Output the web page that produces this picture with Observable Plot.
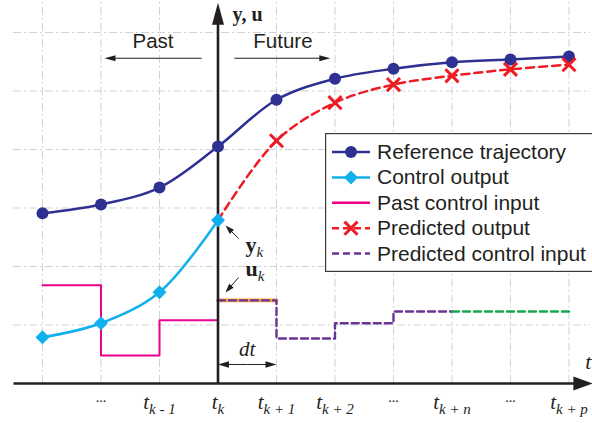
<!DOCTYPE html>
<html>
<head>
<meta charset="utf-8">
<script src="https://cdn.jsdelivr.net/npm/d3@7"></script>
<script src="https://cdn.jsdelivr.net/npm/@observablehq/plot@0.6"></script>
<style>
  body { margin: 0; background: #fff; }
  #chart { position: relative; width: 592px; height: 423px; overflow: hidden; }
  #legend { position: absolute; left: 325px; top: 133px; }
</style>
</head>
<body>
<div id="chart"></div>
<script>
// Sample instants, counted in steps of dt from t_k
const steps = [-3, -2, -1, 0, 1, 2, 3, 4, 5, 6];
const referenceTrajectory = [2.91, 3.06, 3.35, 4.05, 4.85, 5.21, 5.38, 5.49, 5.54, 5.59];

const pastSteps = [-3, -2, -1, 0];
const controlOutput = [0.79, 1.03, 1.56, 2.79];
const pastControlInput = [1.68, 0.48, 1.08, 1.08];

const futureSteps = [0, 1, 2, 3, 4, 5, 6];
const predictedOutput = [2.79, 4.15, 4.80, 5.11, 5.26, 5.37, 5.45];

const predictedInputSteps = [0, 1, 2, 3, 4];
const predictedControlInput = [1.42, 0.77, 1.03, 1.23, 1.23];
const heldInputSteps = [4, 6];          // input held constant past the control horizon

const tickSteps = [-2, -1, 0, 1, 2, 3, 4, 5, 6];
const tickLabels = ["...", "t|k - 1", "t|k", "t|k + 1", "t|k + 2", "...", "t|k + n", "...", "t|k + p"];
const gridSteps = [-3, -2, -1, 1, 2, 3, 4, 5, 6];
const gridLevels = [1, 2, 3, 4, 5, 6];

const legendLabels = ["Reference trajectory", "Control output", "Past control input", "Predicted output", "Predicted control input"];

// Colours
const ink = "#231f20";
const navy = "#2e3192";
const cyan = "#10b0ec";
const magenta = "#ec008c";
const red = "#ed1c24";
const purple = "#6a3494";
const orange = "#f7a13a";
const green = "#15a84e";
const gridColor = "#d2d2d2";

const W = 592, H = 423;
const xDomain = [-3.718, 6.402];
const yDomain = [-0.684, 6.547];
const sx = d3.scaleLinear(xDomain, [0, W]);
const sy = d3.scaleLinear(yDomain, [H, 0]);

// Filled, narrow arrowhead whose tip sits on the dot's position
function head(angle, len, half) {
  const c = Math.cos(angle), s = Math.sin(angle);
  return {
    draw(ctx) {
      ctx.moveTo(0, 0);
      ctx.lineTo(-c * len - s * half, -s * len + c * half);
      ctx.lineTo(-c * len + s * half, -s * len - c * half);
      ctx.closePath();
    }
  };
}

// Annotation arrows: tail (x1, y1) to tip (x2, y2)
const arrows = [
  {x1: -3.496, y1: 0, x2: 6.40, y2: 0, len: 19, half: 7, w: 2.6},   // time axis
  {x1: 0, y1: 0, x2: 0, y2: 6.51, len: 22, half: 6, w: 2.6},         // y, u axis
  {x1: -0.28, y1: 5.56, x2: -1.94, y2: 5.56, len: 11, half: 3, w: 1}, // Past
  {x1: 0.28, y1: 5.56, x2: 1.92, y2: 5.56, len: 11, half: 3, w: 1},   // Future
  {x1: 0.5, y1: 0.325, x2: 0.0, y2: 0.325, len: 11, half: 3.2, w: 1}, // dt, left
  {x1: 0.5, y1: 0.325, x2: 1.0, y2: 0.325, len: 11, half: 3.2, w: 1}, // dt, right
  {x1: 0.35, y1: 2.48, x2: 0.128, y2: 2.70, len: 9, half: 3, w: 1},   // y_k
  {x1: 0.35, y1: 1.81, x2: 0.128, y2: 1.556, len: 9, half: 3, w: 1}   // u_k
].map(a => {
  const px1 = sx(a.x1), py1 = sy(a.y1), px2 = sx(a.x2), py2 = sy(a.y2);
  const angle = Math.atan2(py2 - py1, px2 - px1);
  const back = a.len * 0.6;
  return {
    ...a, angle,
    sx2: sx.invert(px2 - Math.cos(angle) * back),
    sy2: sy.invert(py2 - Math.sin(angle) * back)
  };
});

const serif = "Liberation Serif, Times New Roman, serif";
const sans = "Liberation Sans, Arial, Helvetica, sans-serif";

const subTicks = tickSteps.filter((d, i) => tickLabels[i] !== "...");
const dotTicks = tickSteps.filter((d, i) => tickLabels[i] === "...");

const plot = Plot.plot({
  width: W,
  height: H,
  margin: 0,
  x: {domain: xDomain, range: [0, W], axis: null},
  y: {domain: yDomain, range: [H, 0], axis: null},
  style: {background: "#fff", overflow: "visible"},
  marks: [
    // dash-dot grid
    Plot.ruleX(gridSteps, {x: d => d, y1: 0, y2: yDomain[1], stroke: gridColor, strokeWidth: 1, strokeDasharray: "8,3,2,3"}),
    Plot.ruleY(gridLevels, {y: d => d, x1: -3.496, x2: 6.37, stroke: gridColor, strokeWidth: 1, strokeDasharray: "8,3,2,3"}),

    // control inputs
    Plot.line(pastSteps, {x: d => d, y: (d, i) => pastControlInput[i], curve: "step-after", stroke: magenta, strokeWidth: 2}),
    Plot.line(predictedInputSteps.slice(0, 2), {x: d => d, y: () => predictedControlInput[0], stroke: orange, strokeWidth: 3.6}),
    Plot.line(predictedInputSteps, {x: d => d, y: (d, i) => predictedControlInput[i], curve: "step-after", stroke: purple, strokeWidth: 2.4, strokeDasharray: "7,4"}),
    Plot.line(heldInputSteps, {x: d => d, y: () => predictedControlInput[predictedControlInput.length - 1], stroke: green, strokeWidth: 2.4, strokeDasharray: "7,4"}),

    // outputs
    Plot.line(pastSteps, {x: d => d, y: (d, i) => controlOutput[i], curve: "catmull-rom", stroke: cyan, strokeWidth: 2.5}),
    Plot.line(steps, {x: d => d, y: (d, i) => referenceTrajectory[i], curve: "catmull-rom", stroke: navy, strokeWidth: 2.5}),
    Plot.line(futureSteps, {x: d => d, y: (d, i) => predictedOutput[i], curve: "catmull-rom", stroke: red, strokeWidth: 2.5, strokeDasharray: "8,5"}),

    // arrows (shafts then heads)
    Plot.link(arrows, {x1: "x1", y1: "y1", x2: "sx2", y2: "sy2", stroke: ink, strokeWidth: d => d.w}),
    ...arrows.map(a => Plot.dot([a], {x: "x2", y: "y2", r: 5, symbol: head(a.angle, a.len, a.half), fill: ink, stroke: "none"})),

    // markers
    Plot.dot(steps, {x: d => d, y: (d, i) => referenceTrajectory[i], r: 6, symbol: "circle", fill: navy, stroke: "none"}),
    Plot.dot(pastSteps, {x: d => d, y: (d, i) => controlOutput[i], r: 6.3, symbol: "diamond2", fill: cyan, stroke: "none"}),
    Plot.dot(futureSteps.slice(1), {x: d => d, y: (d, i) => predictedOutput[i + 1], r: 6, symbol: "times", stroke: red, strokeWidth: 3, fill: "none"}),

    // time tick labels
    Plot.text(subTicks, {x: d => d, y: 0, dy: 19, text: d => tickLabels[tickSteps.indexOf(d)], fontFamily: serif, fontStyle: "italic", fontSize: 21, fill: ink}),
    Plot.text(dotTicks, {x: d => d, y: 0, dy: 14, text: () => "...", fontFamily: serif, fontSize: 14, fill: ink}),

    // axis names and annotations
    Plot.text(["y, u"], {x: 0.248, y: 6.305, text: d => d, textAnchor: "start", fontFamily: serif, fontWeight: "bold", fontSize: 20, fill: ink}),
    Plot.text(["t"], {x: 6.33, y: 0.376, text: d => d, fontFamily: serif, fontStyle: "italic", fontSize: 22, fill: ink}),
    Plot.text(["dt"], {x: 0.5, y: 0.588, text: d => d, fontFamily: serif, fontStyle: "italic", fontSize: 21, fill: ink}),
    Plot.text(["Past"], {x: -1.11, y: 5.84, text: d => d, fontFamily: sans, fontSize: 20.5, fill: ink}),
    Plot.text(["Future"], {x: 1.11, y: 5.84, text: d => d, fontFamily: sans, fontSize: 20.5, fill: ink}),
    Plot.text(["y|k", "u|k"], {x: 0.47, y: [2.36, 1.95], text: d => d, textAnchor: "start", fontFamily: serif, fontWeight: "bold", fontSize: 22, fill: ink})
  ]
});

// Turn "main|sub" strings into a main glyph with a lowered italic subscript
d3.select(plot).selectAll("text").each(function () {
  const parts = this.textContent.split("|");
  if (parts.length < 2) return;
  const bold = parts[0] === "y" || parts[0] === "u";
  const t = d3.select(this);
  t.text(null);
  t.append("tspan").text(parts[0]);
  const s = t.append("tspan")
    .attr("font-size", 15)
    .attr("dy", bold ? 5 : 5)
    .attr("font-style", "italic")
    .text(parts[1]);
  if (bold) s.attr("font-weight", "normal");
});

const chart = document.getElementById("chart");
chart.appendChild(plot);

// Legend box inside the plotting area
const legendItems = [
  {label: legendLabels[0], color: navy, dash: null, symbol: d3.symbolCircle, r: 6, fill: true},
  {label: legendLabels[1], color: cyan, dash: null, symbol: d3.symbolDiamond2, r: 6.3, fill: true},
  {label: legendLabels[2], color: magenta, dash: null, symbol: null},
  {label: legendLabels[3], color: red, dash: "7,4", symbol: d3.symbolTimes, r: 6, fill: false},
  {label: legendLabels[4], color: purple, dash: "7,4", symbol: null}
];
const lg = d3.select(chart).append("svg").attr("id", "legend").attr("width", 272).attr("height", 140);
lg.append("rect").attr("x", 0.6).attr("y", 0.6).attr("width", 280).attr("height", 137.8)
  .attr("fill", "#fff").attr("stroke", "#3a3a3a").attr("stroke-width", 1.2);
const rows = lg.selectAll("g.row").data(legendItems).join("g")
  .attr("transform", (d, i) => `translate(0,${19 + i * 25.4})`);
rows.append("line").attr("x1", 7).attr("x2", 45).attr("y1", 0).attr("y2", 0)
  .attr("stroke", d => d.color).attr("stroke-width", 2.5)
  .attr("stroke-dasharray", d => d.dash);
rows.filter(d => d.symbol).append("path")
  .attr("transform", "translate(26,0)")
  .attr("d", d => d3.symbol(d.symbol, Math.PI * d.r * d.r)())
  .attr("fill", d => d.fill ? d.color : "none")
  .attr("stroke", d => d.fill ? "none" : d.color)
  .attr("stroke-width", 3);
rows.append("text").attr("x", 52).attr("y", 7)
  .attr("font-family", sans).attr("font-size", 21).attr("fill", ink)
  .text(d => d.label);
</script>
</body>
</html>
